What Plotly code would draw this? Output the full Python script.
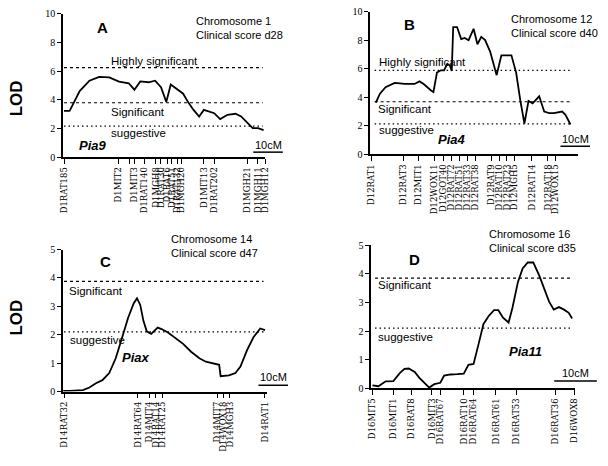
"""
LOD score profiles for four chromosomes (panels A-D).
"""

import plotly.graph_objects as go


# ============================================================
# 1. Data (positions in cM, scores in LOD)
# ============================================================

# Panel A - chromosome 1, clinical score d28
a_markers = ["D1RAT185", "D1MIT2", "", "D1MIT3", "D1RAT140", "D1MGH8", "D1RAT30",
             "D1RAT6", "D1RAT51", "D1RAT132", "D1MGH20", "D1MIT13", "D1RAT202",
             "D1MGH21", "D1MGH11", "D1MGH12"]
a_marker_cm = [0.3, 18.6, 22.3, 24.1, 27.6, 31.4, 33.1, 35.2, 36.8, 38.6, 40.0,
               47.6, 51.1, 62.2, 65.9, 68.3]
a_cm = [0.3, 2.2, 5.6, 8.9, 12.2, 15.6, 18.9, 22.2, 24.1, 26.1, 28.9, 31.1, 33.1,
        34.9, 36.4, 38.3, 40.6, 42.2, 44.1, 46.0, 47.6, 51.1, 53.1, 55.6, 58.3,
        60.2, 62.2, 64.1, 65.9, 67.8]
a_lod = [3.22, 3.22, 4.60, 5.33, 5.60, 5.56, 5.26, 5.15, 4.70, 5.28, 5.22, 5.33,
         4.88, 3.85, 5.06, 4.76, 4.42, 3.85, 3.29, 2.83, 3.29, 3.06, 2.65, 2.95,
         3.02, 2.83, 2.38, 2.02, 2.02, 1.88]

# Panel B - chromosome 12, clinical score d40
b_markers = ["D12RAT1", "D12RAT3", "D12MIT1", "D12WOX11", "D12GOT40", "D12RAT72",
             "D12RAT51", "D12RAT33", "D12RAT38", "D12RAT9", "D12RAT10", "D12RAT23",
             "D12MGH5", "D12RAT14", "D12RAT18", "D12WOX15"]
b_marker_cm = [0.3, 11.2, 16.3, 21.7, 24.8, 27.4, 30.2, 32.9, 35.6, 41.1, 43.7,
               46.3, 48.9, 54.7, 60.1, 62.6]
b_cm = [1.9, 3.3, 5.2, 8.3, 11.7, 15.0, 16.7, 18.1, 20.6, 21.4, 22.6, 23.9, 25.0,
        26.1, 27.0, 27.6, 28.1, 29.4, 30.8, 32.0, 33.3, 35.0, 36.3, 37.6, 38.9,
        40.6, 42.8, 44.4, 47.8, 49.4, 50.8, 52.2, 53.6, 55.0, 57.2, 58.9, 60.6,
        62.2, 65.0, 66.1, 67.8]
b_lod = [3.61, 4.25, 4.70, 5.00, 4.93, 4.93, 5.11, 4.93, 4.47, 4.36, 5.73, 5.89,
         5.89, 6.35, 6.22, 5.84, 8.93, 8.93, 8.08, 8.17, 8.01, 8.81, 7.72, 8.24,
         8.01, 7.21, 5.55, 6.94, 6.94, 5.73, 3.79, 2.15, 3.74, 3.56, 4.06, 2.99,
         2.88, 2.88, 2.99, 2.76, 2.08]

# Panel C - chromosome 14, clinical score d47
c_markers = ["D14RAT32", "D14RAT64", "D14MIT4", "D14RAT14", "D14RAT25",
             "D14MIT7", "D14WOX18", "D14MGH3", "D14RAT1"]
c_marker_cm = [0.3, 25.3, 29.2, 31.4, 33.7, 52.2, 54.1, 56.4, 68.3]
c_cm = [0.0, 2.2, 6.7, 8.9, 11.1, 13.3, 15.6, 17.8, 20.0, 22.0, 23.9, 25.0, 26.1,
        27.2, 28.3, 29.8, 32.0, 33.3, 35.6, 37.8, 40.6, 43.3, 46.1, 48.3, 51.1,
        52.8, 53.3, 56.1, 58.3, 60.0, 62.2, 64.4, 66.7, 68.3]
c_lod = [0.02, 0.02, 0.05, 0.14, 0.29, 0.40, 0.65, 1.17, 1.91, 2.60, 3.11, 3.28,
         3.05, 2.48, 2.12, 2.03, 2.25, 2.20, 2.07, 1.91, 1.68, 1.40, 1.17, 1.05,
         0.97, 0.94, 0.54, 0.57, 0.65, 0.88, 1.45, 1.91, 2.22, 2.16]

# Panel D - chromosome 16, clinical score d35
d_markers = ["D16MIT5", "D16MIT1", "D16RAT8", "D16MIT3", "D16RAT67", "D16RAT10",
             "D16RAT64", "D16RAT61", "D16RAT53", "D16RAT36", "D16WOX8"]
d_marker_cm = [0.3, 5.2, 9.4, 14.2, 16.2, 21.7, 24.0, 29.2, 34.0, 43.1, 47.7]
d_cm = [0.3, 1.7, 3.4, 5.2, 6.7, 7.8, 8.8, 10.2, 11.3, 12.5, 13.6, 14.8, 16.2,
        17.1, 18.6, 20.2, 21.7, 22.8, 24.0, 25.2, 26.3, 27.5, 28.8, 29.8, 30.9,
        32.2, 33.1, 34.4, 35.5, 36.7, 38.0, 39.4, 40.5, 41.7, 42.8, 44.0, 45.2,
        46.3, 47.1]
d_lod = [0.10, 0.07, 0.24, 0.25, 0.53, 0.68, 0.69, 0.57, 0.36, 0.17, 0.02, 0.14,
         0.19, 0.44, 0.48, 0.49, 0.51, 0.82, 0.85, 1.56, 2.24, 2.52, 2.73, 2.73,
         2.47, 2.30, 2.81, 3.72, 4.19, 4.40, 4.40, 3.94, 3.49, 3.03, 2.75, 2.84,
         2.75, 2.64, 2.44]

# Thresholds (highly significant / significant / suggestive)
a_thresholds = [6.24, 3.79, 2.15]
b_thresholds = [5.89, 3.68, 2.12]
c_thresholds = [3.88, 2.10]
d_thresholds = [3.85, 2.10]


# ============================================================
# 2. Panel layout settings
# ============================================================

W, H = 608, 466
DASHED = "3px,3px"
DOTTED = "1.5px,3px"
SANS = "Liberation Sans, Arial, sans-serif"
SERIF = "Liberation Serif, Times New Roman, serif"

panels = [
    dict(key="", name="A", markers=a_markers, marker_cm=a_marker_cm, cm=a_cm, lod=a_lod,
         x_px=(60, 265), y_px=(155, 8), xrange=(0, 68.3), yrange=(0, 10), ytick=2,
         thresholds=a_thresholds, styles=[DASHED, DASHED, DOTTED], span=(0.3, 67.5),
         header="Chromosome 1<br>Clinical score d28", header_pos=(44.2, 9.0),
         letter_pos=(13.3, 9.05), qtl="Pia9", qtl_pos=(10.0, 0.8),
         labels=[("Highly significant", 15.6, 6.69), ("Significant", 15.6, 3.17),
                 ("suggestive", 15.6, 1.7)],
         bar=(64.3, 0.34), bar_text=(69.3, 0.85)),
    dict(key="2", name="B", markers=b_markers, marker_cm=b_marker_cm, cm=b_cm, lod=b_lod,
         x_px=(371.7, 582.5), y_px=(152, 6), xrange=(0, 70.3), yrange=(0, 10), ytick=2,
         thresholds=b_thresholds, styles=[DOTTED, DASHED, DOTTED], span=(1.5, 67.8),
         header="Chromosome 12<br>Clinical score d40", header_pos=(47.1, 9.0),
         letter_pos=(13.3, 9.09), qtl="Pia4", qtl_pos=(27.8, 1.0),
         labels=[("Highly significant", 2.2, 6.48), ("Significant", 2.0, 3.15),
                 ("suggestive", 2.2, 1.67)],
         bar=(64.4, 0.55), bar_text=(69.4, 1.05)),
    dict(key="3", name="C", markers=c_markers, marker_cm=c_marker_cm, cm=c_cm, lod=c_lod,
         x_px=(60, 267), y_px=(395.7, 250), xrange=(0, 69), yrange=(0, 5), ytick=1,
         thresholds=c_thresholds, styles=[DASHED, DOTTED], span=(0.3, 67.8),
         header="Chromosome 14<br>Clinical score d47", header_pos=(35.9, 5.12),
         letter_pos=(14.4, 4.58), qtl="Piax", qtl_pos=(24.8, 1.2),
         labels=[("Significant", 1.4, 3.54), ("suggestive", 1.7, 1.82)],
         bar=(66.1, 0.22), bar_text=(71.1, 0.5)),
    dict(key="4", name="D", markers=d_markers, marker_cm=d_marker_cm, cm=d_cm, lod=d_lod,
         x_px=(372.7, 579.7), y_px=(392.3, 245.7), xrange=(0, 47.8), yrange=(0, 5), ytick=1,
         thresholds=d_thresholds, styles=[DASHED, DOTTED], span=(0.9, 47.0),
         header="Chromosome 16<br>Clinical score d35", header_pos=(27.1, 5.17),
         letter_pos=(10.2, 4.51), qtl="Pia11", qtl_pos=(36.2, 1.27),
         labels=[("Significant", 1.15, 3.6), ("suggestive", 1.1, 1.8)],
         bar=(42.9, 0.25), bar_text=(47.9, 0.52)),
]


def px_to_paper(px, py):
    return px / W, 1 - py / H


def to_paper(p, x, y):
    """Convert (cM, LOD) in a panel to paper coordinates."""
    (x0, x1), (y0, y1) = p["x_px"], p["y_px"]
    r0, r1 = p["xrange"]
    q0, q1 = p["yrange"]
    px = x0 + (x - r0) / (r1 - r0) * (x1 - x0)
    py = y0 + (y - q0) / (q1 - q0) * (y1 - y0)
    return px_to_paper(px, py)


# ============================================================
# 3. Build figure
# ============================================================

fig = go.Figure()
annotations = []
shapes = []

for p in panels:
    xa, ya = "x" + p["key"], "y" + p["key"]

    for value, dash in zip(p["thresholds"], p["styles"]):
        fig.add_trace(go.Scatter(
            x=list(p["span"]), y=[value, value], xaxis=xa, yaxis=ya,
            mode="lines", line=dict(color="black", width=1.2, dash=dash),
            hoverinfo="skip", showlegend=False,
        ))

    fig.add_trace(go.Scatter(
        x=p["cm"], y=p["lod"], xaxis=xa, yaxis=ya, mode="lines",
        line=dict(color="black", width=1.8), showlegend=False,
        hovertemplate="%{x:.1f} cM<br>LOD %{y:.2f}<extra></extra>",
    ))

    dx0, dy0 = px_to_paper(p["x_px"][0], p["y_px"][0])
    dx1, dy1 = px_to_paper(p["x_px"][1], p["y_px"][1])
    fig.layout["xaxis" + p["key"]] = dict(
        domain=[dx0, dx1], range=list(p["xrange"]), anchor=ya,
        showline=True, linecolor="black", linewidth=1.5, mirror=False,
        showgrid=False, zeroline=False, ticks="outside", ticklen=5,
        tickwidth=1.2, tickcolor="black", tickmode="array",
        tickvals=p["marker_cm"], ticktext=p["markers"], tickangle=-90,
        tickfont=dict(family="DejaVu Serif, serif", size=8.5, color="black"),
    )
    fig.layout["yaxis" + p["key"]] = dict(
        domain=[dy0, dy1], range=list(p["yrange"]), anchor=xa,
        showline=True, linecolor="black", linewidth=1.5,
        showgrid=False, zeroline=False, ticks="outside", ticklen=4,
        tickwidth=1.2, tickcolor="black", dtick=p["ytick"], tick0=0,
        tickfont=dict(family=SERIF, size=10, color="black"),
    )

    # panel letter, header, threshold labels, QTL name
    lx, ly = to_paper(p, *p["letter_pos"])
    annotations.append(dict(x=lx, y=ly, text=p["name"],
                            font=dict(family=SANS, size=15, color="black", weight="bold")))
    hx, hy = to_paper(p, *p["header_pos"])
    annotations.append(dict(x=hx, y=hy, text=p["header"], xanchor="left", align="left",
                            font=dict(family=SANS, size=11, color="black")))
    for text, tx, ty in p["labels"]:
        px_, py_ = to_paper(p, tx, ty)
        annotations.append(dict(x=px_, y=py_, text=text, xanchor="left",
                                font=dict(family=SANS, size=11.5, color="black")))
    qx, qy = to_paper(p, *p["qtl_pos"])
    annotations.append(dict(x=qx, y=qy, text="<b><i>" + p["qtl"] + "</i></b>",
                            font=dict(family=SANS, size=13, color="black")))

    # 10 cM scale bar
    bx, by = p["bar"]
    sx0, sy = to_paper(p, bx, by)
    sx1, _ = to_paper(p, bx + 10, by)
    shapes.append(dict(type="line", xref="paper", yref="paper", x0=sx0, x1=sx1,
                       y0=sy, y1=sy, line=dict(color="black", width=1.5)))
    tx, ty = to_paper(p, *p["bar_text"])
    annotations.append(dict(x=tx, y=ty, text="10cM",
                            font=dict(family=SANS, size=11, color="black")))

# y-axis titles
for y_px in (95, 320):
    lx, ly = px_to_paper(13, y_px)
    annotations.append(dict(x=lx, y=ly, text="LOD", textangle=-90,
                            font=dict(family=SANS, size=17, color="black", weight="bold")))

for a in annotations:
    a.setdefault("xref", "paper")
    a.setdefault("yref", "paper")
    a.setdefault("xanchor", "center")
    a.setdefault("yanchor", "middle")
    a["showarrow"] = False

fig.update_layout(
    width=W, height=H,
    margin=dict(l=0, r=0, t=0, b=0),
    paper_bgcolor="white", plot_bgcolor="white",
    annotations=annotations, shapes=shapes,
    showlegend=False,
)

# drop the default 8px page margin so the figure sits at the window origin
fig.write_html("out.html", config={"displayModeBar": False},
               post_script="document.body.style.margin = '0';")
